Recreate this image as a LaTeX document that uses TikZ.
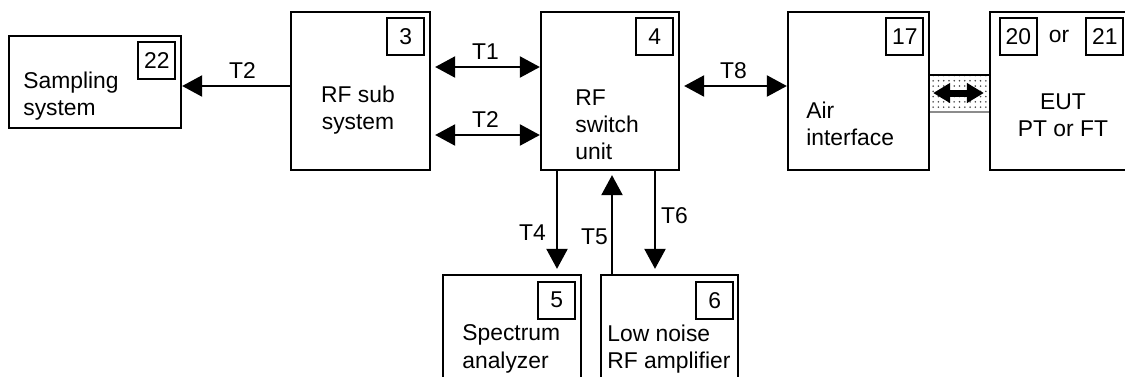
\documentclass[tikz,border=0pt]{standalone}
\usepackage{fontspec}
\setmainfont{Liberation Sans}
\usetikzlibrary{arrows.meta, positioning, patterns}

\tikzset{
  bloc/.style={draw, line width=1.3pt, inner sep=0pt},
  numbox/.style={draw, line width=1pt, minimum size=0.74cm, inner sep=0pt},
  txt/.style={inner sep=0pt, align=left},
  lab/.style={inner sep=0pt},
  sig/.style={line width=1.3pt, -{Triangle[length=0.40cm, width=0.42cm]}},
  sigb/.style={line width=1.3pt, {Triangle[length=0.40cm, width=0.42cm]}-{Triangle[length=0.40cm, width=0.42cm]}},
  fat/.style={line width=0.14cm, {Triangle[length=0.34cm, width=0.38cm]}-{Triangle[length=0.34cm, width=0.38cm]}},
}

\begin{document}
\begin{tikzpicture}[font=\fontsize{13}{15.5}\selectfont]
  \useasboundingbox (0,0) rectangle (22.5,7.52);

  % Blocs
  \node[bloc, minimum width=3.44cm, minimum height=1.84cm] (samp) at (1.90,5.88) {};
  \node[bloc, minimum width=2.78cm, minimum height=3.16cm] (rfsub) at (7.21,5.70) {};
  \node[bloc, minimum width=2.76cm, minimum height=3.16cm] (switch) at (12.20,5.70) {};
  \node[bloc, minimum width=2.82cm, minimum height=3.16cm] (air) at (17.17,5.70) {};
  \node[bloc, minimum width=2.76cm, minimum height=3.16cm] (eut) at (21.18,5.70) {};
  \node[bloc, minimum width=2.76cm, minimum height=2.10cm] (spec) at (10.24,0.97) {};
  \node[bloc, minimum width=2.74cm, minimum height=2.10cm] (lna) at (13.39,0.97) {};

  % Numeros
  \node[numbox, below left=0.12cm and 0.12cm of samp.north east] (n22) {22};
  \node[numbox, below left=0.12cm and 0.12cm of rfsub.north east] (n3) {3};
  \node[numbox, below left=0.12cm and 0.12cm of switch.north east] (n4) {4};
  \node[numbox, below left=0.12cm and 0.12cm of air.north east] (n17) {17};
  \node[numbox, below right=0.12cm and 0.20cm of eut.north west] (n20) {20};
  \node[numbox, below left=0.12cm and 0.10cm of eut.north east] (n21) {21};
  \node[lab] (or) at (eut |- n20) {or};
  \node[numbox, below left=0.14cm and 0.12cm of spec.north east] (n5) {5};
  \node[numbox, below left=0.14cm and 0.10cm of lna.north east] (n6) {6};

  % Textes
  \node[txt, anchor=west] (samptxt) at (0.46,5.60) {Sampling\\system};
  \node[txt, align=center] (rfsubtxt) at (7.16,5.32) {RF sub\\system};
  \node[txt, anchor=west] (switchtxt) at (11.50,5.02) {RF\\switch\\unit};
  \node[txt, anchor=west] (airtxt) at (16.12,5.04) {Air\\interface};
  \node[txt, align=center] (euttxt) at (21.26,5.22) {EUT\\PT or FT};
  \node[txt, anchor=west] (spectxt) at (9.24,0.54) {Spectrum\\analyzer};
  \node[txt, anchor=west] (lnatxt) at (12.14,0.54) {Low noise\\RF amplifier};

  % Liaisons horizontales
  \coordinate (t2a) at ([yshift=0.10cm]rfsub.west);
  \draw[sig] (t2a) -- node[lab, pos=0.44, above=0.13cm] {T2} (t2a -| samp.east);
  \draw[sigb, shorten <=0.08cm] ([yshift=0.48cm]rfsub.east) -- node[lab, above=0.12cm] {T1} ([yshift=0.48cm]switch.west);
  \draw[sigb, shorten <=0.08cm] ([yshift=-0.88cm]rfsub.east) -- node[lab, above=0.13cm] {T2} ([yshift=-0.88cm]switch.west);
  \draw[sigb, shorten <=0.08cm] ([yshift=0.10cm]switch.east) -- node[lab, above=0.12cm] {T8} ([yshift=0.10cm]air.west);

  % Liaisons verticales
  \coordinate (t4a) at ([xshift=-1.06cm]switch.south);
  \coordinate (t5a) at ([xshift=0.04cm]switch.south);
  \coordinate (t6a) at ([xshift=0.90cm]switch.south);
  \draw[sig, shorten >=0.10cm] (t4a) -- node[lab, pos=0.6, left=0.2cm] {T4} (t4a |- spec.north);
  \draw[sig, shorten >=0.08cm] (t5a |- lna.north) -- node[lab, pos=0.36, left=0.06cm] {T5} (t5a);
  \draw[sig, shorten >=0.10cm] (t6a) -- node[lab, pos=0.43, right=0.1cm] {T6} (t6a |- lna.north);

  % Interface radio
  \coordinate (bandtl) at ([yshift=0.32cm]air.east);
  \coordinate (bandbr) at ([yshift=-0.42cm]eut.west);
  \fill[pattern=dots, pattern color=black!75] (bandtl) rectangle (bandbr);
  \draw[line width=1.3pt] (bandtl) -- (bandtl -| eut.west);
  \draw[line width=1.3pt, black!45] (bandbr -| air.east) -- (bandbr);
  \draw[fat] ([xshift=0.06cm, yshift=-0.04cm]air.east) -- ([xshift=-0.10cm, yshift=-0.04cm]eut.west);
\end{tikzpicture}
\end{document}
